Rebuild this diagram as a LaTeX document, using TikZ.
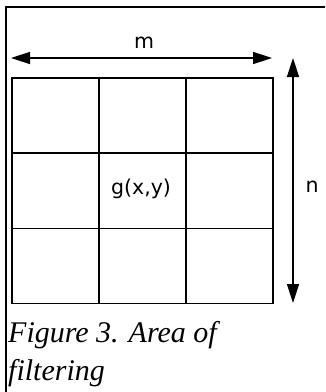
\documentclass[tikz,border=0pt]{standalone}
\usepackage{fontspec}
\setmainfont{Liberation Serif}
\newfontfamily\labelfont{DejaVu Sans}
\usetikzlibrary{arrows.meta}
\begin{document}
\begin{tikzpicture}[x=1pt,y=-1pt,
  frameline/.style={line width=1.5pt},
  cellbox/.style={draw,line width=1.5pt,minimum width=87pt,minimum height=75.33pt,inner sep=0pt,anchor=north west,font=\labelfont\fontsize{20.5}{24}\selectfont},
  dimarrow/.style={line width=1.5pt,{Triangle[length=19pt,width=12pt]}-{Triangle[length=19pt,width=12pt]}},
  dimlabel/.style={font=\labelfont\fontsize{20.5}{24}\selectfont,inner sep=0pt},
  caption/.style={font=\itshape\fontsize{30}{38}\selectfont,inner sep=0pt,anchor=base west}]
\useasboundingbox (0,0) rectangle (325,392);
\fill[white] (0,0) rectangle (325,392);
% frame
\coordinate (fr1) at (325,7);
\coordinate (fr0) at (6,7);
\coordinate (fr2) at (6,392);
\draw[frameline] (fr1) -- (fr0) -- (fr2);
% grid cells
\foreach \r in {0,1,2}{
  \foreach \c in {0,1,2}{
    \node[cellbox] (c\r\c) at ({11+87*\c},{77+75.33*\r}) {};
  }
}
\node[dimlabel] (g) at (141,189) {g(x,y)};
% m arrow
\coordinate (mL) at (11,58);
\coordinate (mR) at (272,58);
\draw[dimarrow] (mL) -- (mR);
\node[dimlabel] (m) at (144,43) {m};
% n arrow
\coordinate (nT) at (293,58);
\coordinate (nB) at (293,303);
\draw[dimarrow] (nT) -- (nB);
\node[dimlabel] (n) at (312,187) {n};
% caption
\node[caption] (cap1) at (8,342) {Figure 3. Area of};
\node[caption] (cap2) at (8,380) {filtering};
\end{tikzpicture}
\end{document}
